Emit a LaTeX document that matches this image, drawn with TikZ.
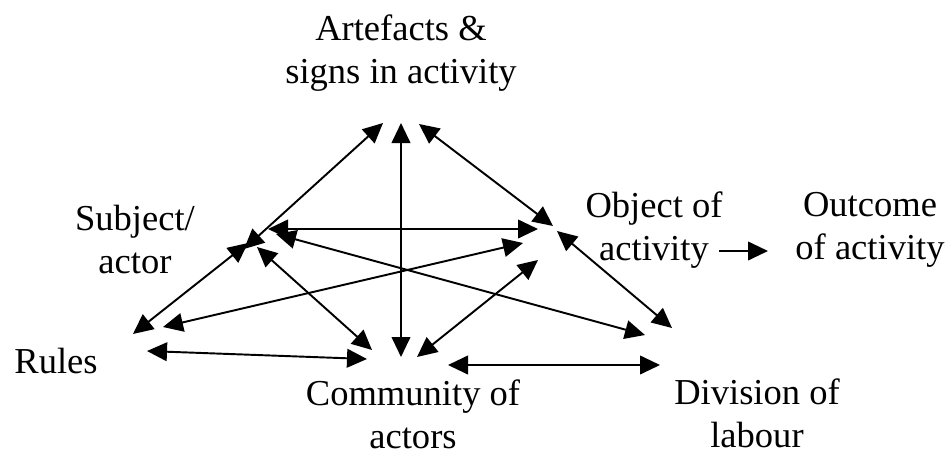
\documentclass[tikz,border=0pt]{standalone}
\usepackage{fontspec}
\setmainfont{Liberation Serif}
\usetikzlibrary{arrows.meta}
\begin{document}
\begin{tikzpicture}[x=0.75pt,y=-0.75pt,
  lbl/.style={font=\fontsize{27.4pt}{32.25pt}\selectfont, inner sep=0pt, align=center, anchor=north},
  link/.style={line width=1.45pt, {Triangle[length=15pt,width=14pt]}-{Triangle[length=15pt,width=14pt]}},
  onelink/.style={line width=1.45pt, -{Triangle[length=15pt,width=14pt]}}
]
\useasboundingbox (0,0) rectangle (951,457);

% labels
\node[lbl] (art) at (401,15) {Artefacts \&\\signs in activity};
\node[lbl] (subj) at (135,205) {Subject/\\actor};
\node[lbl] (obj) at (654,192) {Object of\\activity};
\node[lbl] (out) at (870,192) {Outcome\\of activity};
\node[lbl, anchor=base] (rules) at (56,373) {Rules};
\node[lbl] (comm) at (413,380) {Community of\\actors};
\node[lbl] (div) at (757,379) {Division of\\labour};

% connector end points
\coordinate (artSW) at (383,123);
\coordinate (artS)  at (401,123);
\coordinate (artSE) at (419,124);
\coordinate (subA)  at (244,249);
\coordinate (subR)  at (248,243);
\coordinate (subO)  at (268,229);
\coordinate (subD)  at (276,234);
\coordinate (subC)  at (257,247);
\coordinate (objA)  at (553,226);
\coordinate (objD)  at (557,231);
\coordinate (objS)  at (538,229);
\coordinate (objR)  at (523,243);
\coordinate (objC)  at (538,260);
\coordinate (objOut) at (719,251);
\coordinate (outIn) at (768,251);
\coordinate (rulS)  at (133,334);
\coordinate (rulO)  at (163,327);
\coordinate (rulC)  at (147,351);
\coordinate (comR)  at (367,359);
\coordinate (comS)  at (372,350);
\coordinate (comA)  at (401,357);
\coordinate (comO)  at (417,357);
\coordinate (comD)  at (448,365);
\coordinate (divC)  at (660,365);
\coordinate (divS)  at (645,335);
\coordinate (divO)  at (672,328);

% connectors
\draw[link] (artSW) -- (subA);
\draw[link] (artS) -- (comA);
\draw[link] (artSE) -- (objA);
\draw[link] (subO) -- (objS);
\draw[link] (subD) -- (divS);
\draw[link] (subC) -- (comS);
\draw[link] (rulS) -- (subR);
\draw[link] (rulO) -- (objR);
\draw[link] (rulC) -- (comR);
\draw[link] (comO) -- (objC);
\draw[link] (objD) -- (divO);
\draw[link] (comD) -- (divC);
\draw[onelink] (objOut) -- (outIn);
\end{tikzpicture}
\end{document}
